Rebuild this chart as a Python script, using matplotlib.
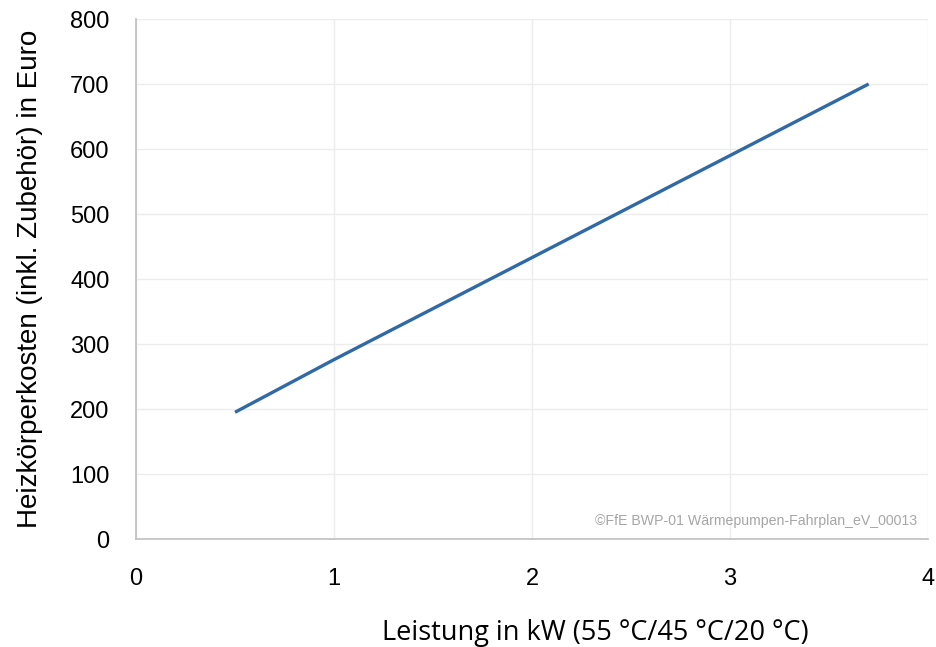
import matplotlib.pyplot as plt

# Data
leistung_kw = [0.5, 1.0, 2.0, 3.0, 3.7]
kosten_euro = [195, 276, 433, 590, 700]

x_ticks = [0, 1, 2, 3, 4]
y_ticks = [0, 100, 200, 300, 400, 500, 600, 700, 800]

plt.rcParams['font.family'] = ['Liberation Sans', 'DejaVu Sans']

fig = plt.figure(figsize=(9.36, 6.47), dpi=100)
ax = fig.add_axes([0.1453, 0.1669, 0.8462, 0.8037])

ax.plot(leistung_kw, kosten_euro, color='#2f69a6', linewidth=2.4, solid_capstyle='butt')

ax.set_xlim(0, 4)
ax.set_ylim(0, 800)
ax.set_xticks(x_ticks)
ax.set_yticks(y_ticks)
ax.tick_params(axis='both', length=0, labelsize=17, colors='#000000')
ax.tick_params(axis='x', pad=21)
ax.tick_params(axis='y', pad=19)

ax.grid(True, color='#ececec', linewidth=1)
ax.set_axisbelow(True)
for side in ['top', 'right']:
    ax.spines[side].set_visible(False)
for side in ['left', 'bottom']:
    ax.spines[side].set_color('#bfbfbf')
    ax.spines[side].set_linewidth(1.2)

ax.set_xlabel('Leistung in kW (55 °C/45 °C/20 °C)', fontsize=19.5,
              family=['Open Sans', 'DejaVu Sans'], va='center')
ax.xaxis.set_label_coords(0.58, -0.181)
ax.set_ylabel('Heizkörperkosten (inkl. Zubehör) in Euro', fontsize=20, va='center')
ax.yaxis.set_label_coords(-0.134, 0.5)

ax.text(0.986, 0.021, '©FfE BWP-01 Wärmepumpen-Fahrplan_eV_00013', transform=ax.transAxes,
        ha='right', va='bottom', fontsize=10.2, color='#a6a6a6')

fig.savefig('out.png', dpi=100)
